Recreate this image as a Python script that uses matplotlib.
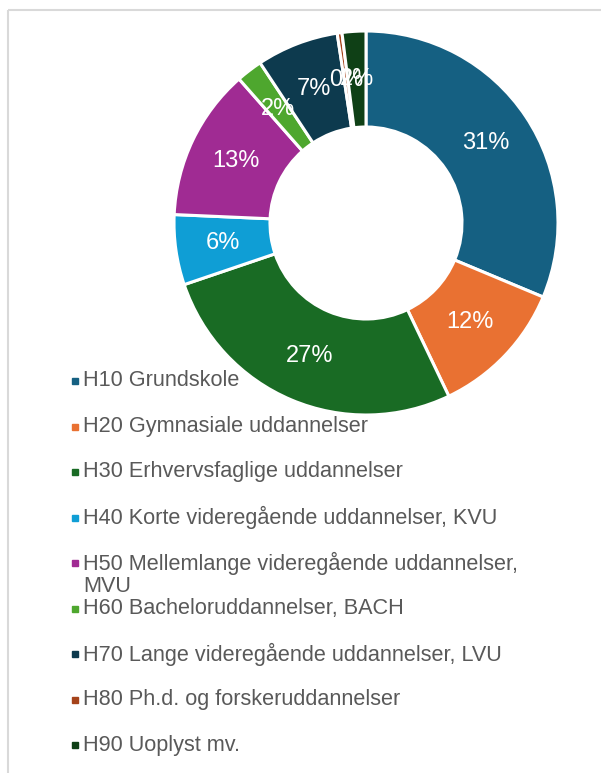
import matplotlib.pyplot as plt
from matplotlib.patches import Rectangle

# data
labels = ['H10 Grundskole',
          'H20 Gymnasiale uddannelser',
          'H30 Erhvervsfaglige uddannelser',
          'H40 Korte videregående uddannelser, KVU',
          'H50 Mellemlange videregående uddannelser,\nMVU',
          'H60 Bacheloruddannelser, BACH',
          'H70 Lange videregående uddannelser, LVU',
          'H80 Ph.d. og forskeruddannelser',
          'H90 Uoplyst mv.']
shares = [31.3, 11.6, 26.9, 5.9, 12.8, 2.2, 6.9, 0.4, 2.0]
colors = ['#156082', '#E97132', '#196B24', '#0F9ED5', '#A02B93',
          '#4EA72E', '#0D3A4E', '#A5431A', '#0F4016']

plt.rcParams['font.family'] = ['Liberation Sans', 'DejaVu Sans']

W, H = 601, 773
fig = plt.figure(figsize=(W / 100, H / 100), dpi=100)

# donut
cx, cy, r = 366, 223, 192
ax = fig.add_axes([(cx - r) / W, (H - cy - r) / H, 2 * r / W, 2 * r / H])
ax.pie(shares, colors=colors, startangle=90, counterclock=False,
       radius=1, pctdistance=0.75,
       autopct=lambda p: '%.0f%%' % p,
       wedgeprops=dict(width=0.5, edgecolor='white', linewidth=2.2),
       textprops=dict(color='white', fontsize=17))
ax.set_xlim(-1, 1)
ax.set_ylim(-1, 1)
ax.axis('off')

# overlay in pixel coords for legend and frame
ov = fig.add_axes([0, 0, 1, 1], facecolor='none')
ov.set_xlim(0, W)
ov.set_ylim(H, 0)
ov.axis('off')
ov.add_patch(Rectangle((8, 10), W + 20, H + 20, fill=False,
                       edgecolor='#D9D9D9', linewidth=1.5))

y0, dy = 381, 45.5
for i, (lab, col) in enumerate(zip(labels, colors)):
    y = y0 + i * dy
    ov.plot(75, y, marker='s', markersize=5, color=col, linestyle='none')
    for j, line in enumerate(lab.split('\n')):
        ov.text(83, y + j * 24, line, fontsize=15.6, color='#595959',
                va='center', ha='left')

fig.savefig('out.png', dpi=100)
